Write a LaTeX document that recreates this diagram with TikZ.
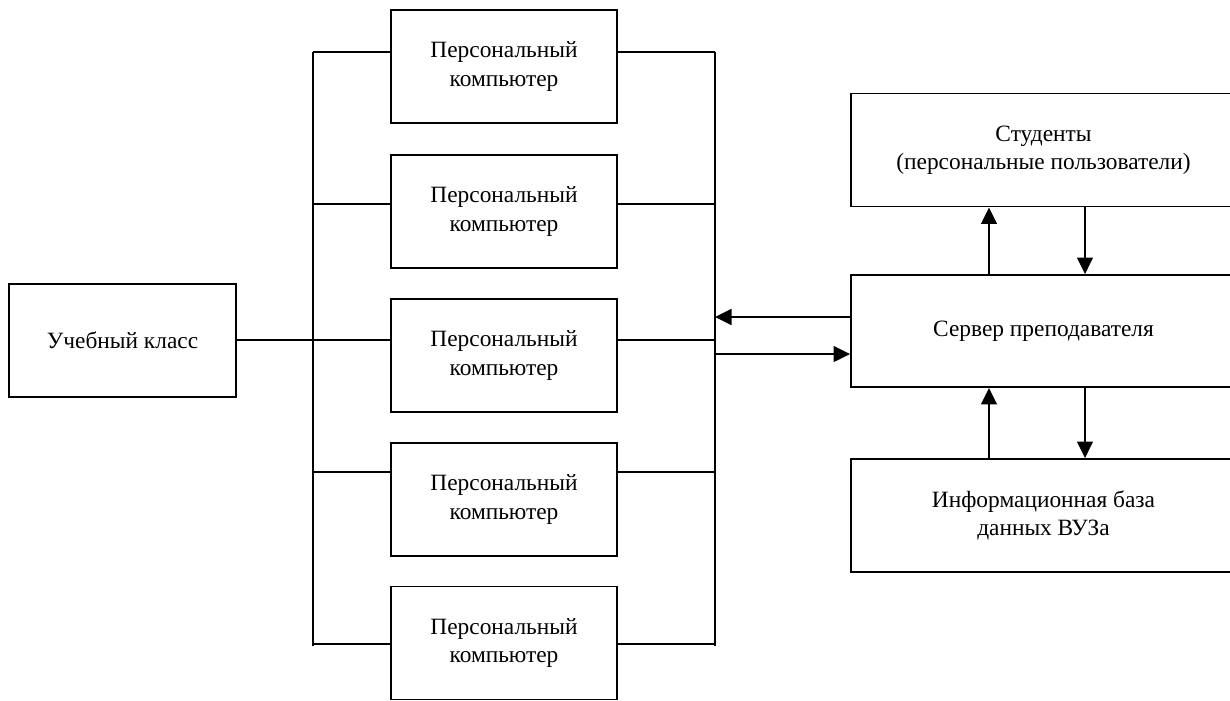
\documentclass[tikz,border=0pt]{standalone}
\usepackage{fontspec}
\setmainfont{Liberation Serif}
\usetikzlibrary{arrows.meta}

\begin{document}
\begin{tikzpicture}[x=0.02cm,y=-0.02cm]

 \tikzset{
    box/.style={draw, line width=1pt, align=center,
      font=\fontsize{13.3}{16}\selectfont, inner sep=0pt},
    pcbox/.style={box, minimum width=4.52cm, minimum height=2.26cm},
    sidebox/.style={box, minimum width=7.7cm, minimum height=2.26cm},
    wire/.style={line width=1pt},
    arr/.style={line width=1.6pt, -{Triangle[length=3.3mm,width=3.1mm]}},
  }

  \useasboundingbox (0,0) rectangle (1230,700);

  \node[box, minimum width=4.54cm, minimum height=2.26cm] (klass) at (122.5,340.5) {Учебный класс};

  \node[pcbox] (pc1) at (504,66.5) {Персональный\\компьютер};
  \node[pcbox] (pc2) at (504,211.5) {Персональный\\компьютер};
  \node[pcbox] (pc3) at (504,355.5) {Персональный\\компьютер};
  \node[pcbox] (pc4) at (504,499.5) {Персональный\\компьютер};
  \node[pcbox] (pc5) at (504,643) {Персональный\\компьютер};

  \node[sidebox] (stud) at (1043.5,150) {Студенты\\(персональные пользователи)};
  \node[sidebox, minimum height=2.24cm] (srv) at (1043.5,331) {Сервер преподавателя};
  \node[sidebox] (vuz) at (1043.5,515.5) {Информационная база\\данных ВУЗа};

  \coordinate (busL) at (313,52);
  \coordinate (busR) at (715,52);
  \coordinate (upx) at (989,0);
  \coordinate (dnx) at (1085,0);

  \draw[wire] (busL) -- (busL |- 0,646);
  \draw[wire] (busR) -- (busR |- 0,646);
  \foreach \i/\y in {1/52,2/204,3/340,4/472,5/644} {
    \draw[wire] (busL |- 0,\y) -- (pc\i.west |- 0,\y);
    \draw[wire] (pc\i.east |- 0,\y) -- (busR |- 0,\y);
  }
  \draw[wire] (klass.east |- 0,340) -- (busL |- 0,340);

  \draw[arr] (srv.west |- 0,317) -- (busR |- 0,317);
  \draw[arr] (busR |- 0,354) -- (srv.west |- 0,354);

  \draw[arr] (srv.north -| upx) -- (stud.south -| upx);
  \draw[arr] (stud.south -| dnx) -- (srv.north -| dnx);
  \draw[arr] (vuz.north -| upx) -- (srv.south -| upx);
  \draw[arr] (srv.south -| dnx) -- (vuz.north -| dnx);

\end{tikzpicture}
\end{document}
